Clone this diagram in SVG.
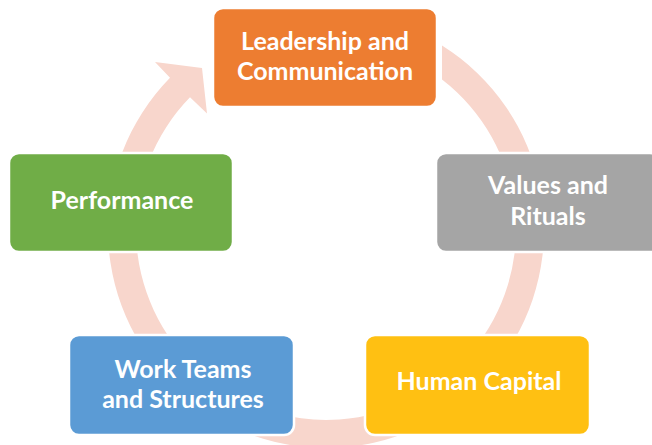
<svg xmlns="http://www.w3.org/2000/svg" width="652" height="445" viewBox="0 0 652 445">
  <style>
    .box { stroke: #ffffff; stroke-width: 2.5; }
    .lbl { font-family: Lato, "Open Sans", "Liberation Sans", sans-serif; font-weight: bold; font-size: 25px; fill: #ffffff; text-anchor: middle; }
  </style>
  <rect width="652" height="445" fill="#ffffff"/>
  <g id="connectors">
    <path id="cycle-arrow" fill="#F8D6CC" d="M 442 45.4 A 218 218 0 1 1 170.0 77.7 L 155 62 L 202 68 L 207 113.5 L 190.0 97.3 A 190 190 0 1 0 442 79.5 Z"/>
  </g>
  <g id="node-leadership">
    <rect class="box" x="213" y="8" width="224" height="99" rx="10" fill="#ED7D31"/>
    <text class="lbl" x="325" y="50">Leadership and</text>
    <text class="lbl" x="325" y="80">Communication</text>
  </g>
  <g id="node-values">
    <rect class="box" x="436" y="153" width="224" height="99" rx="10" fill="#A5A5A5"/>
    <text class="lbl" x="548" y="194">Values and</text>
    <text class="lbl" x="548" y="224.5">Rituals</text>
  </g>
  <g id="node-human-capital">
    <rect class="box" x="365" y="335" width="225" height="100" rx="10" fill="#FFC012"/>
    <text class="lbl" x="479" y="390">Human Capital</text>
  </g>
  <g id="node-work-teams">
    <rect class="box" x="69" y="335" width="225" height="100" rx="10" fill="#5B9BD5"/>
    <text class="lbl" x="183" y="377.5">Work Teams</text>
    <text class="lbl" x="183" y="407.5">and Structures</text>
  </g>
  <g id="node-performance">
    <rect class="box" x="9" y="153" width="224" height="99" rx="10" fill="#70AD47"/>
    <text class="lbl" x="122" y="208.5">Performance</text>
  </g>
</svg>
